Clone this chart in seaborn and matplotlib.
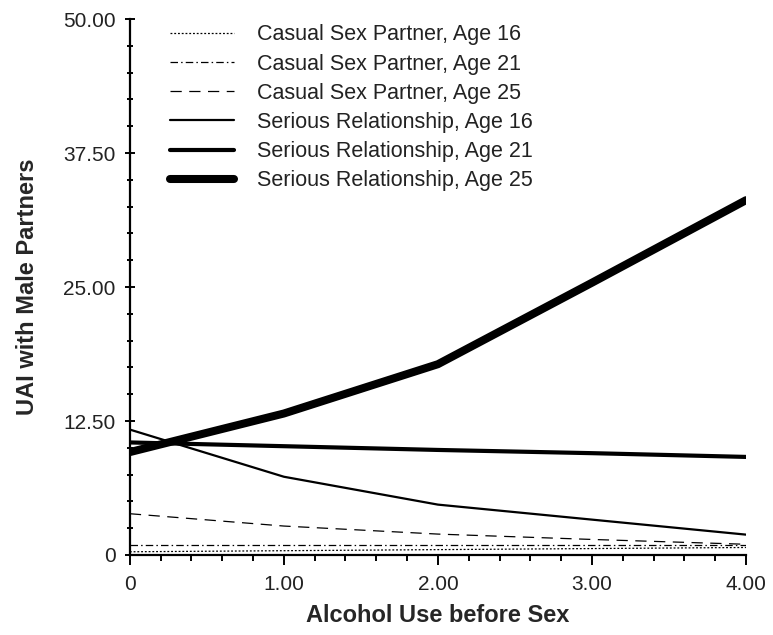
import matplotlib
matplotlib.use('Agg')
import matplotlib.pyplot as plt
import seaborn as sns
import pandas as pd
from matplotlib.ticker import MultipleLocator, FixedLocator

# %% Data
alcohol = [0, 1, 2, 3, 4]

casual_16 = [0.30, 0.40, 0.50, 0.60, 0.70]
casual_21 = [0.90, 0.90, 0.90, 0.90, 0.90]
casual_25 = [3.85, 2.70, 1.95, 1.45, 1.00]
serious_16 = [11.7, 7.3, 4.7, 3.3, 1.9]
serious_21 = [10.5, 10.15, 9.8, 9.5, 9.15]
serious_25 = [9.6, 13.2, 17.8, 25.4, 33.1]

labels = ['Casual Sex Partner, Age 16', 'Casual Sex Partner, Age 21',
          'Casual Sex Partner, Age 25', 'Serious Relationship, Age 16',
          'Serious Relationship, Age 21', 'Serious Relationship, Age 25']
series = [casual_16, casual_21, casual_25, serious_16, serious_21, serious_25]

y_ticks = [0, 12.5, 25, 37.5, 50]
y_tick_labels = ['0', '12.50', '25.00', '37.50', '50.00']
x_tick_labels = ['0', '1.00', '2.00', '3.00', '4.00']

# %% Long table for seaborn
df = pd.concat([pd.DataFrame({'alcohol': alcohol, 'uai': vals, 'group': lab})
                for lab, vals in zip(labels, series)], ignore_index=True)

styles = [(0, (1.5, 1.5)), (0, (6, 2.5, 1.2, 2.5)), (0, (9, 6)), '-', '-', '-']
widths = [0.9, 0.9, 0.9, 1.6, 3.0, 5.8]

# %% Plot
sns.set_style('ticks')
plt.rcParams['font.family'] = ['Liberation Sans', 'DejaVu Sans']

fig = plt.figure(figsize=(7.73, 6.35), dpi=100)
ax = fig.add_axes([0.168, 0.126, 0.797, 0.844])

for lab, ls, lw in zip(labels, styles, widths):
    sns.lineplot(data=df[df['group'] == lab], x='alcohol', y='uai', ax=ax,
                 color='black', linewidth=lw, linestyle=ls, label=lab)

ax.set_xlim(0, 4)
ax.set_ylim(0, 50)
ax.xaxis.set_major_locator(FixedLocator(alcohol))
ax.set_xticklabels(x_tick_labels)
ax.xaxis.set_minor_locator(MultipleLocator(0.2))
ax.yaxis.set_major_locator(FixedLocator(y_ticks))
ax.set_yticklabels(y_tick_labels)
ax.yaxis.set_minor_locator(MultipleLocator(2.5))

ax.tick_params(axis='both', which='major', labelsize=15, width=1.4,
               color='black', labelcolor='#222222')
ax.tick_params(axis='both', which='minor', width=1.4, color='black')
ax.tick_params(axis='y', which='major', direction='inout', length=6.5, pad=7)
ax.tick_params(axis='y', which='minor', direction='inout', length=4.5)
ax.tick_params(axis='x', which='major', direction='out', length=7.5, pad=7)
ax.tick_params(axis='x', which='minor', direction='out', length=4.5)

for side in ['top', 'right']:
    ax.spines[side].set_visible(False)
for side in ['left', 'bottom']:
    ax.spines[side].set_linewidth(1.6)
    ax.spines[side].set_color('black')

ax.set_xlabel('Alcohol Use before Sex', fontsize=17, fontweight='bold', labelpad=7)
ax.set_ylabel('UAI with Male Partners', fontsize=17, fontweight='bold', labelpad=17)

leg = ax.legend(loc='upper left', bbox_to_anchor=(0.065, 0.99), frameon=False,
                borderaxespad=0, borderpad=0, fontsize=15.5, handlelength=3.0,
                handletextpad=1.05, labelspacing=0.38, labelcolor='#222222')

fig.savefig('out.png', dpi=100)
